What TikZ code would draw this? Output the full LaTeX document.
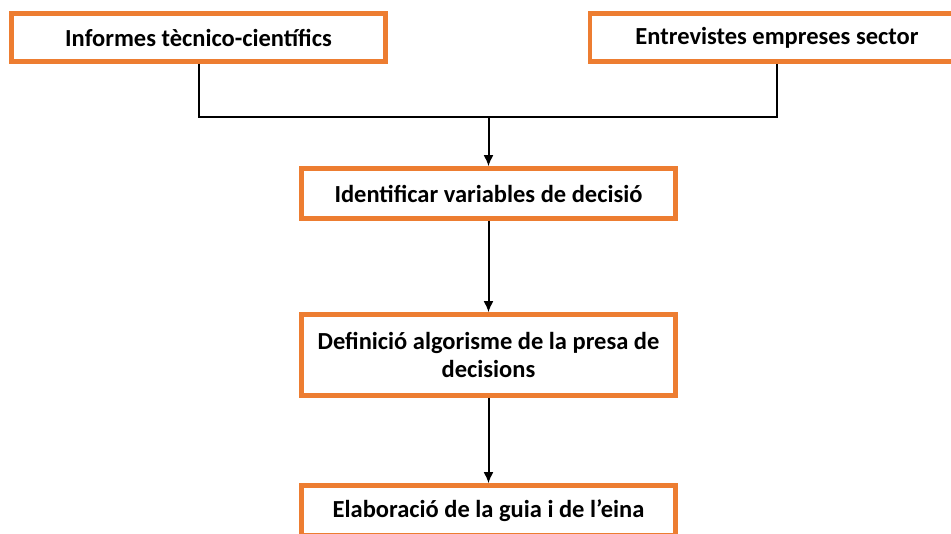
\documentclass[tikz,border=0pt]{standalone}
\usepackage{fontspec}
\setmainfont{Carlito}
\definecolor{boxorange}{HTML}{ED7D31}
\tikzset{
  stepbox/.style={draw=boxorange, line width=4.5pt, fill=white,
    minimum width=374pt, align=center,
    font=\bfseries\fontsize{24.5}{28}\selectfont, inner sep=0pt},
  flow/.style={line width=2pt, -{Latex[length=11pt,width=10pt]}}
}
\usetikzlibrary{arrows.meta}
\begin{document}
\begin{tikzpicture}[x=1pt, y=-1pt]
  \useasboundingbox (0,0) rectangle (951,534);
  \clip (0,0) rectangle (951,534);
  \draw
    (198.5,37.5) node[stepbox, minimum height=48pt] (informes) {Informes tècnico-científics}
    (777,37.5) node[stepbox, minimum height=48pt] (entrevistes) {Entrevistes empreses sector}
    (488.5,193.5) node[stepbox, minimum height=50pt] (variables) {Identificar variables de decisió}
    (488.5,355) node[stepbox, minimum height=81pt] (algorisme) {Definició algorisme de la presa de\\decisions}
    (488.5,510.5) node[stepbox, minimum height=50pt] (guia) {Elaboració de la guia i de l’eina};
  \coordinate (join) at (488.5,117);
  \begin{scope}[line width=2pt]
    \draw (informes.south) |- (join) -| (entrevistes.south);
    \draw[flow] (join) to (variables.north);
    \draw[flow] (variables) to (algorisme);
    \draw[flow] (algorisme) to (guia);
  \end{scope}
\end{tikzpicture}
\end{document}
